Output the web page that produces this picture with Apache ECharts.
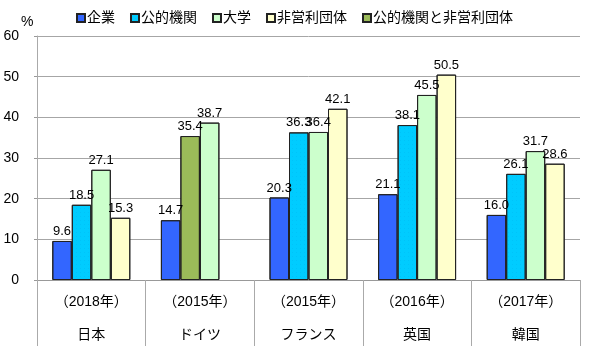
<!DOCTYPE html>
<html><head><meta charset="utf-8">
<script src="https://cdn.jsdelivr.net/npm/echarts@6/dist/echarts.min.js"></script>
<style>html,body{margin:0;padding:0;background:#fff}#c{width:595px;height:353px}</style>
</head><body><div id="c"></div>
<script>
const years = ['（2018年）','（2015年）','（2015年）','（2016年）','（2017年）'];
const countries = ['日本','ドイツ','フランス','英国','韓国'];
const kigyo = [9.6, 14.7, 20.3, 21.1, 16.0];
const koteki = [18.5, 35.4, 36.3, 38.1, 26.1]; // Germany value = 公的機関と非営利団体
const daigaku = [27.1, 38.7, 36.4, 45.5, 31.7];
const hieiri = [15.3, null, 42.1, 50.5, 28.6];
const germanyIndex = 1;
const yTicks = [0, 10, 20, 30, 40, 50, 60];

const FONT = '"Liberation Sans", "Noto Sans CJK JP", sans-serif';
const lbl = {show: true, position: 'top', distance: 3, color: '#000', fontSize: 13, fontFamily: FONT,
  formatter: p => p.value == null ? '' : Number(p.value).toFixed(1)};
const noDecal = {symbol: 'none'};
const border = {borderColor: '#222', borderWidth: 1, decal: noDecal};
const dots = {symbol: 'rect', symbolSize: 0.5, color: 'rgba(0,110,190,0.35)', dashArrayX: [1, 3], dashArrayY: [1, 3], rotation: 0};

const chart = echarts.init(document.getElementById('c'), null, {renderer: 'canvas'});
chart.setOption({
  animation: false,
  aria: {enabled: true, label: {enabled: false}, decal: {show: true}},
  textStyle: {fontFamily: FONT},
  grid: {left: 37, right: 15, top: 36, bottom: 73},
  legend: {
    top: 6, left: 71, itemWidth: 8, itemHeight: 8, itemGap: 15,
    icon: 'rect',
    textStyle: {fontSize: 14, color: '#000', fontFamily: FONT, padding: [0, 0, 0, -3]},
    data: ['企業', '公的機関', '大学', '非営利団体', '公的機関と非営利団体']
  },
  graphic: [{type: 'text', left: 21, top: 15, style: {text: '%', fontSize: 14, fill: '#000', font: '14px ' + FONT}}],
  xAxis: {
    type: 'category',
    data: countries.map((c, i) => years[i] + '\n' + c),
    axisLine: {lineStyle: {color: '#999', width: 1}},
    axisTick: {show: true, length: 66, lineStyle: {color: '#aaa'}, interval: 0},
    axisLabel: {color: '#000', fontSize: 14, lineHeight: 33, margin: 6, interval: 0, fontFamily: FONT}
  },
  yAxis: {
    type: 'value', min: 0, max: 60, interval: 10,
    axisLine: {show: true, lineStyle: {color: '#aaa'}},
    axisTick: {show: true, length: 3, lineStyle: {color: '#999'}},
    axisLabel: {color: '#000', fontSize: 14, margin: 18, fontFamily: FONT,
      formatter: v => yTicks.includes(v) ? String(v) : ''},
    splitLine: {lineStyle: {color: '#a6a6a6', width: 1}}
  },
  series: [
    {name: '企業', type: 'bar', stack: 's1', barWidth: 19.5, barGap: 0, data: kigyo,
      itemStyle: Object.assign({}, border, {color: '#3366FF'}), label: lbl},
    {name: '公的機関と非営利団体', type: 'bar', stack: 's1', barWidth: 19.5, data: kigyo.map(() => null),
      itemStyle: Object.assign({}, border, {color: '#9BBB59'})},
    {name: '公的機関', type: 'bar', barWidth: 19.5, barGap: 0,
      data: koteki.map((v, i) => i === germanyIndex ? {value: v, itemStyle: {color: '#9BBB59', decal: noDecal}} : v),
      itemStyle: Object.assign({}, border, {color: '#00CCFF', decal: dots}),
      label: lbl},
    {name: '大学', type: 'bar', barWidth: 19.5, barGap: 0, data: daigaku,
      itemStyle: Object.assign({}, border, {color: '#CCFFCC'}), label: lbl},
    {name: '非営利団体', type: 'bar', barWidth: 19.5, barGap: 0, data: hieiri,
      itemStyle: Object.assign({}, border, {color: '#FFFFCC'}), label: lbl}
  ]
});
</script></body></html>
